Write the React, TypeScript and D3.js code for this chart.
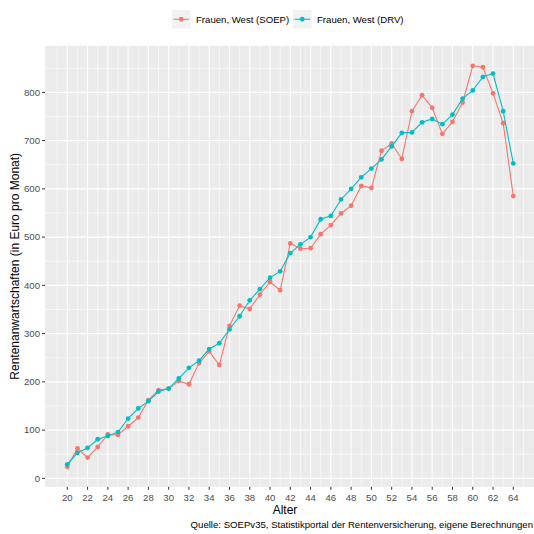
import React from "react";
import * as d3 from "d3";

const ages = [20,21,22,23,24,25,26,27,28,29,30,31,32,33,34,35,36,37,38,39,40,41,42,43,44,45,46,47,48,49,50,51,52,53,54,55,56,57,58,59,60,61,62,63,64];
const soep = [24,62,43,65,91,90,108,126,162,183,186,202,195,239,263,235,316,358,351,381,407,390,487,476,477,506,525,549,565,606,602,679,694,662,761,794,768,714,739,779,855,852,798,736,585];
const drv = [29,53,63,81,88,96,124,145,160,180,186,207,229,244,268,280,309,336,369,392,416,429,467,485,500,537,544,578,600,624,642,661,688,716,717,738,745,734,754,787,804,832,839,761,653];
const seriesNames = ["Frauen, West (SOEP)", "Frauen, West (DRV)"];
const seriesColors = ["#F8766D", "#00BFC4"];
const xTicks = [20,22,24,26,28,30,32,34,36,38,40,42,44,46,48,50,52,54,56,58,60,62,64];
const yTicks = [0,100,200,300,400,500,600,700,800];
const yMinor = [50,150,250,350,450,550,650,750,850];
const xMinor = [19,21,23,25,27,29,31,33,35,37,39,41,43,45,47,49,51,53,55,57,59,61,63,65];

const W = 534, H = 534;
const PL = 45, PR = 535.6, PT = 45.8, PB = 486.8;

export default function App() {
  const x = d3.scaleLinear().domain([17.8, 66.2]).range([PL, PR]);
  const y = d3.scaleLinear().domain([-17.5, 896.5]).range([PB, PT]);
  const line = d3.line<[number, number]>().x(d => x(d[0])).y(d => y(d[1]));
  const series = [soep, drv];
  const font = "Liberation Sans, Arial, sans-serif";
  const legendKeys = [172, 293];
  const legendTextX = [196, 317];
  return (
    <svg width={W} height={H} style={{ position: "absolute", left: 0, top: 0, background: "#fff" }} fontFamily={font}>
      <defs>
        <clipPath id="panel"><rect x={PL} y={PT} width={PR - PL} height={PB - PT} /></clipPath>
      </defs>
      <rect x={PL} y={PT} width={PR - PL} height={PB - PT} fill="#EBEBEB" />
      <g clipPath="url(#panel)">
        {yMinor.map(v => <line key={"ym" + v} x1={PL} x2={PR} y1={y(v)} y2={y(v)} stroke="#fff" strokeWidth={0.55} />)}
        {xMinor.map(v => <line key={"xm" + v} y1={PT} y2={PB} x1={x(v)} x2={x(v)} stroke="#fff" strokeWidth={0.55} />)}
        {yTicks.map(v => <line key={"yM" + v} x1={PL} x2={PR} y1={y(v)} y2={y(v)} stroke="#fff" strokeWidth={1.1} />)}
        {xTicks.map(v => <line key={"xM" + v} y1={PT} y2={PB} x1={x(v)} x2={x(v)} stroke="#fff" strokeWidth={1.1} />)}
        {series.map((s, i) => (
          <g key={"s" + i}>
            <path d={line(ages.map((a, j) => [a, s[j]] as [number, number])) || ""} fill="none" stroke={seriesColors[i]} strokeWidth={1.1} />
            {ages.map((a, j) => <circle key={j} cx={x(a)} cy={y(s[j])} r={2.4} fill={seriesColors[i]} />)}
          </g>
        ))}
      </g>
      {yTicks.map(v => (
        <g key={"yt" + v}>
          <line x1={PL - 3} x2={PL} y1={y(v)} y2={y(v)} stroke="#333" strokeWidth={1} />
          <text x={PL - 5} y={y(v)} dy="0.35em" textAnchor="end" fontSize={9.6} fill="#4D4D4D">{v}</text>
        </g>
      ))}
      {xTicks.map(v => (
        <g key={"xt" + v}>
          <line x1={x(v)} x2={x(v)} y1={PB} y2={PB + 3} stroke="#333" strokeWidth={1} />
          <text x={x(v)} y={PB + 14} textAnchor="middle" fontSize={9.6} fill="#4D4D4D">{v}</text>
        </g>
      ))}
      <text x={285} y={513.5} textAnchor="middle" fontSize={12} fill="#000">Alter</text>
      <text transform={`translate(19,${(PT + PB) / 2}) rotate(-90)`} textAnchor="middle" fontSize={12} fill="#000">Rentenanwartschaften (in Euro pro Monat)</text>
      <text x={533} y={527.5} textAnchor="end" fontSize={9.6} fill="#000">Quelle: SOEPv35, Statistikportal der Rentenversicherung, eigene Berechnungen</text>
      {seriesNames.map((n, i) => (
        <g key={"lg" + i}>
          <rect x={legendKeys[i]} y={10} width={18.5} height={18.5} fill="#F2F2F2" />
          <line x1={legendKeys[i] + 1.5} x2={legendKeys[i] + 17} y1={19.25} y2={19.25} stroke={seriesColors[i]} strokeWidth={1.1} />
          <circle cx={legendKeys[i] + 9.25} cy={19.25} r={2.4} fill={seriesColors[i]} />
          <text x={legendTextX[i]} y={19.25} dy="0.35em" fontSize={9.6} fill="#000">{n}</text>
        </g>
      ))}
    </svg>
  );
}
